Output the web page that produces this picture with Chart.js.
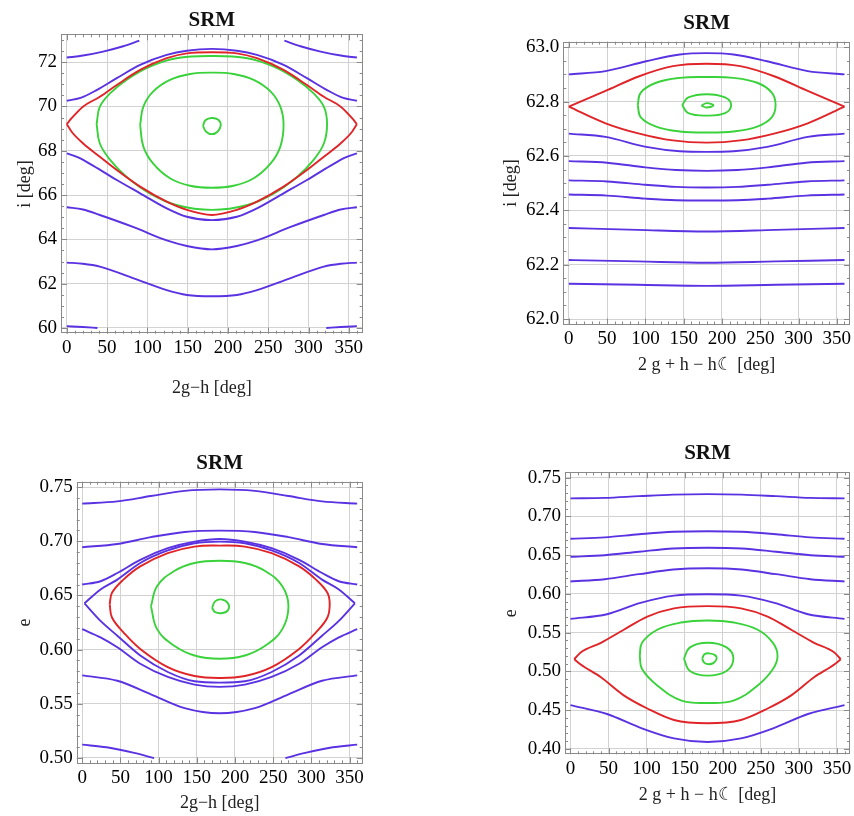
<!DOCTYPE html>
<html>
<head>
<meta charset="utf-8">
<script src="https://cdn.jsdelivr.net/npm/chart.js@4.4.1/dist/chart.umd.min.js"></script>
<style>
  html, body { margin: 0; padding: 0; background: #fff; overflow: hidden; }
  body { width: 854px; height: 816px; position: relative; }
  canvas { position: absolute; }
</style>
</head>
<body>
<canvas id="c1" width="400" height="405" style="left:0;top:0"></canvas>
<canvas id="c2" width="384" height="390" style="left:470px;top:0"></canvas>
<canvas id="c3" width="400" height="386" style="left:0;top:430px"></canvas>
<canvas id="c4" width="384" height="386" style="left:470px;top:430px"></canvas>
<script>
// tick values
const xTicks = [0, 50, 100, 150, 200, 250, 300, 350];
const p1YTicks = [60, 62, 64, 66, 68, 70, 72];
const p2YTicks = [62.0, 62.2, 62.4, 62.6, 62.8, 63.0];
const p3YTicks = [0.50, 0.55, 0.60, 0.65, 0.70, 0.75];
const p4YTicks = [0.40, 0.45, 0.50, 0.55, 0.60, 0.65, 0.70, 0.75];

// panel 1: i vs 2g-h   (points are [x, y])
const p1Blue = [
  [[0,72.21],[20,72.3],[45,72.48],[70,72.72],[90,72.97]],
  [[270,72.97],[290,72.72],[315,72.48],[340,72.3],[360,72.21]],
  [[0,70.26],[18,70.40],[37,70.74],[62,71.28],[91,71.88],[124,72.33],[149,72.52],[180,72.6],[211,72.52],[236,72.33],[269,71.88],[298,71.28],[323,70.74],[342,70.40],[360,70.26]],
  [[0,67.88],[14,67.7],[33,67.32],[62,66.68],[91,66.08],[124,65.40],[149,65.02],[180,64.87],[211,65.02],[236,65.40],[269,66.08],[298,66.68],[327,67.32],[346,67.7],[360,67.88]],
  [[0,65.45],[20,65.35],[41,65.1],[83,64.55],[124,63.95],[149,63.7],[180,63.55],[211,63.7],[236,63.95],[277,64.55],[319,65.1],[340,65.35],[360,65.45]],
  [[0,62.95],[20,62.9],[41,62.77],[83,62.24],[124,61.71],[149,61.49],[180,61.43],[211,61.49],[236,61.71],[277,62.24],[319,62.77],[340,62.9],[360,62.95]],
  [[0,60.08],[20,60.04],[38,60.0]],
  [[322,60.0],[340,60.04],[360,60.08]]
];
const p1Red = [
  [[0,69.2],[6,69.47],[20,69.99],[41,70.44],[62,70.97],[91,71.65],[124,72.18],[149,72.40],[180,72.45],[211,72.40],[236,72.18],[269,71.65],[298,70.97],[319,70.44],[340,69.99],[354,69.47],[360,69.2]],
  [[0,69.2],[6,68.86],[20,68.34],[41,67.73],[62,67.13],[91,66.38],[124,65.70],[149,65.33],[180,65.10],[211,65.33],[236,65.70],[269,66.38],[298,67.13],[319,67.73],[340,68.34],[354,68.86],[360,69.2]]
];
const p1Green = [
  [[37,69.2],[41,69.99],[54,70.60],[74,71.20],[103,71.80],[136,72.18],[180,72.28],[224,72.18],[257,71.80],[286,71.20],[306,70.60],[319,69.99],[323,69.2],[319,68.33],[306,67.58],[286,66.83],[257,66.08],[224,65.55],[180,65.33],[136,65.55],[103,66.08],[74,66.83],[54,67.58],[41,68.33],[37,69.2]],
  [[91,69.16],[95,69.99],[107,70.67],[128,71.20],[153,71.47],[180,71.53],[207,71.47],[232,71.20],[253,70.67],[265,69.99],[269,69.16],[265,68.19],[253,67.43],[232,66.76],[207,66.42],[180,66.33],[153,66.42],[128,66.76],[107,67.43],[95,68.19],[91,69.16]],
  [[169,69.12],[172,69.38],[180,69.48],[188,69.40],[191,69.15],[187,68.86],[180,68.75],[173,68.86],[169,69.12]]
];

// panel 2: i vs 2g+h-h_moon
const p2Blue = [
  [[0,62.90],[48,62.912],[101,62.948],[145,62.973],[180,62.978],[215,62.973],[259,62.948],[312,62.912],[360,62.90]],
  [[0,62.682],[48,62.670],[101,62.633],[145,62.617],[180,62.615],[215,62.617],[259,62.633],[312,62.670],[360,62.682]],
  [[0,62.581],[50,62.575],[100,62.558],[140,62.548],[180,62.545],[220,62.548],[260,62.558],[310,62.575],[360,62.581]],
  [[0,62.510],[50,62.506],[100,62.494],[140,62.486],[180,62.484],[220,62.486],[260,62.494],[310,62.506],[360,62.510]],
  [[0,62.458],[50,62.454],[100,62.443],[140,62.437],[180,62.436],[220,62.437],[260,62.443],[310,62.454],[360,62.458]],
  [[0,62.335],[90,62.328],[180,62.322],[270,62.328],[360,62.335]],
  [[0,62.217],[90,62.212],[180,62.207],[270,62.212],[360,62.217]],
  [[0,62.130],[90,62.126],[180,62.122],[270,62.126],[360,62.130]]
];
const p2Red = [
  [[0,62.781],[48,62.839],[92,62.893],[136,62.93],[180,62.939],[224,62.93],[268,62.893],[312,62.839],[360,62.781]],
  [[0,62.781],[48,62.72],[92,62.682],[136,62.657],[180,62.649],[224,62.657],[268,62.682],[312,62.72],[360,62.781]]
];
const p2Green = [
  [[90,62.787],[94,62.833],[114,62.869],[145,62.887],[180,62.89],[215,62.887],[246,62.869],[265,62.833],[270,62.787],[265,62.742],[246,62.708],[215,62.69],[180,62.686],[145,62.69],[114,62.708],[94,62.742],[90,62.787]],
  [[148,62.787],[156,62.815],[180,62.827],[204,62.815],[212,62.787],[204,62.757],[180,62.748],[156,62.757],[148,62.787]],
  [[173,62.785],[180,62.794],[189,62.786],[180,62.778],[173,62.785]]
];

// panel 3: e vs 2g-h
const p3Blue = [
  [[0,0.7348],[46,0.7368],[90,0.7418],[134,0.7465],[180,0.7479],[226,0.7465],[270,0.7418],[314,0.7368],[360,0.7348]],
  [[0,0.6945],[46,0.6975],[90,0.7038],[134,0.7086],[180,0.7098],[226,0.7086],[270,0.7038],[314,0.6975],[360,0.6945]],
  [[0,0.6601],[24,0.6631],[46,0.6707],[76,0.6829],[112,0.6936],[147,0.6997],[180,0.7021],[213,0.6997],[248,0.6936],[284,0.6829],[314,0.6707],[336,0.6631],[360,0.6601]],
  [[3,0.6427],[24,0.6555],[46,0.6646],[76,0.6799],[112,0.6915],[147,0.6982],[180,0.6997],[213,0.6982],[248,0.6915],[284,0.6799],[314,0.6646],[336,0.6555],[357,0.6427]],
  [[3,0.6427],[24,0.6265],[46,0.6128],[76,0.5945],[112,0.5793],[147,0.5707],[180,0.5695],[213,0.5707],[248,0.5793],[284,0.5945],[314,0.6128],[336,0.6265],[357,0.6427]],
  [[0,0.6189],[24,0.6113],[46,0.6021],[76,0.5869],[112,0.5747],[147,0.5677],[180,0.5656],[213,0.5677],[248,0.5747],[284,0.5869],[314,0.6021],[336,0.6113],[360,0.6189]],
  [[0,0.5762],[46,0.5712],[90,0.5587],[134,0.5460],[180,0.5412],[226,0.5460],[270,0.5587],[314,0.5712],[360,0.5762]],
  [[0,0.5122],[32,0.5098],[68,0.5046],[94,0.4998]],
  [[266,0.4998],[292,0.5046],[328,0.5098],[360,0.5122]]
];
const p3Red = [
  [[36,0.6418],[39,0.6524],[54,0.6646],[76,0.6768],[112,0.689],[147,0.6951],[180,0.696],[213,0.6951],[248,0.689],[284,0.6768],[306,0.6646],[321,0.6524],[324,0.6418],[321,0.6296],[306,0.6159],[284,0.6006],[248,0.5838],[213,0.5756],[180,0.5738],[147,0.5756],[112,0.5838],[76,0.6006],[54,0.6159],[39,0.6296],[36,0.6418]]
];
const p3Green = [
  [[90,0.640],[98,0.6585],[120,0.6723],[147,0.6799],[180,0.682],[213,0.6799],[240,0.6723],[262,0.6585],[270,0.640],[262,0.6189],[240,0.6037],[213,0.5945],[180,0.5915],[147,0.5945],[120,0.6037],[98,0.6189],[90,0.640]],
  [[170,0.6385],[174,0.6445],[182,0.6463],[191,0.6425],[191,0.6365],[184,0.6338],[174,0.6345],[170,0.6385]]
];

// panel 4: e vs 2g+h-h_moon
const p4Blue = [
  [[0,0.7233],[45,0.724],[90,0.7262],[135,0.7282],[180,0.7288],[225,0.7282],[270,0.7262],[315,0.724],[360,0.7233]],
  [[0,0.6712],[45,0.673],[90,0.677],[135,0.6802],[180,0.6809],[225,0.6802],[270,0.677],[315,0.673],[360,0.6712]],
  [[0,0.6479],[45,0.650],[90,0.6545],[135,0.6587],[180,0.6597],[225,0.6587],[270,0.6545],[315,0.650],[360,0.6479]],
  [[0,0.6161],[45,0.619],[90,0.6255],[135,0.6315],[180,0.6331],[225,0.6315],[270,0.6255],[315,0.619],[360,0.6161]],
  [[0,0.5678],[48,0.5738],[92,0.5885],[136,0.5978],[180,0.5996],[224,0.5978],[268,0.5885],[312,0.5738],[360,0.5678]],
  [[0,0.4564],[48,0.4450],[92,0.4272],[136,0.4135],[180,0.4089],[224,0.4135],[268,0.4272],[312,0.4450],[360,0.4564]]
];
const p4Red = [
  [[5,0.5157],[13,0.5242],[40,0.5369],[70,0.5538],[101,0.5708],[136,0.5814],[180,0.5843],[224,0.5814],[259,0.5708],[290,0.5538],[320,0.5369],[347,0.5242],[355,0.5157]],
  [[5,0.5157],[13,0.5093],[40,0.4924],[70,0.4691],[101,0.4521],[136,0.4373],[180,0.4331],[224,0.4373],[259,0.4521],[290,0.4691],[320,0.4924],[347,0.5093],[355,0.5157]]
];
const p4Green = [
  [[91,0.5199],[94,0.5369],[114,0.5538],[145,0.5631],[180,0.5657],[215,0.5631],[246,0.5538],[266,0.5369],[272,0.5199],[266,0.503],[246,0.4818],[215,0.4627],[180,0.4593],[145,0.4627],[114,0.4818],[94,0.503],[91,0.5199]],
  [[149,0.5165],[157,0.531],[180,0.5369],[205,0.531],[214,0.5165],[205,0.5005],[180,0.4945],[157,0.5005],[149,0.5165]],
  [[173,0.5165],[176,0.522],[182,0.5233],[190,0.521],[192,0.5165],[188,0.511],[182,0.5093],[176,0.511],[173,0.5165]]
];

const serif = "'Liberation Serif', 'Times New Roman', 'DejaVu Serif', serif";
const BLUE = '#5a32e2', RED = '#e02428', GREEN = '#3ad23a';

function curves(list, color) {
  return list.map(c => {
    const first = c[0], last = c[c.length - 1];
    const closed = first[0] === last[0] && first[1] === last[1];
    return {
      data: c.map(p => ({x: p[0], y: p[1]})),
      borderColor: color,
      borderWidth: 1.9,
      pointRadius: 0,
      showLine: true,
      // open curves run left to right, so monotone keeps them from overshooting
      cubicInterpolationMode: closed ? 'default' : 'monotone',
      tension: 0.4,
      fill: false
    };
  });
}

// frame + inward tick marks, like the original plots
const frameTicks = {
  id: 'frameTicks',
  afterDatasetsDraw(chart, args, opts) {
    const {ctx, chartArea: a, scales: {x, y}} = chart;
    ctx.save();
    ctx.strokeStyle = '#8a8a8a';
    ctx.lineWidth = 1;
    ctx.beginPath();
    for (let v = 0; v <= 360; v += 10) {
      const px = Math.round(x.getPixelForValue(v)) + 0.5;
      const len = v % 50 === 0 ? 6 : 3;
      ctx.moveTo(px, a.bottom); ctx.lineTo(px, a.bottom - len);
      ctx.moveTo(px, a.top); ctx.lineTo(px, a.top + len);
    }
    const step = opts.yMinor, major = opts.yMajor;
    for (let k = Math.ceil(y.min / step - 1e-9); k * step <= y.max + 1e-9; k++) {
      const v = k * step;
      const py = Math.round(y.getPixelForValue(v)) + 0.5;
      const r = v / major;
      const len = Math.abs(r - Math.round(r)) < 1e-6 ? 6 : 3;
      ctx.moveTo(a.left, py); ctx.lineTo(a.left + len, py);
      ctx.moveTo(a.right, py); ctx.lineTo(a.right - len, py);
    }
    ctx.stroke();
    ctx.strokeRect(Math.round(a.left) + 0.5, Math.round(a.top) + 0.5, Math.round(a.width) - 1, Math.round(a.height) - 1);
    ctx.restore();
  }
};

function panel(id, sets, yTicks, s) {
  return new Chart(document.getElementById(id), {
    type: 'scatter',
    data: {datasets: [].concat(curves(sets.blue, BLUE), curves(sets.red, RED), curves(sets.green, GREEN))},
    plugins: [frameTicks],
    options: {
      responsive: false,
      animation: false,
      layout: {padding: {left: 0, top: 0, right: s.padRight, bottom: 0}},
      plugins: {
        legend: {display: false},
        tooltip: {enabled: false},
        title: {
          display: true, text: 'SRM', fullSize: false, color: '#111',
          font: {family: serif, size: 21, weight: 'bold', lineHeight: 1.2},
          padding: s.titlePad
        },
        frameTicks: {yMinor: s.yMinor, yMajor: s.yMajor}
      },
      scales: {
        x: {
          type: 'linear', min: -7.2, max: 367.2,
          afterBuildTicks: sc => { sc.ticks = xTicks.map(v => ({value: v})); },
          afterFit: sc => { sc.height = s.xHeight; sc.paddingLeft = 0; sc.paddingRight = 0; },
          ticks: {autoSkip: false, maxRotation: 0, padding: 3, color: '#000', font: {family: serif, size: 19}},
          grid: {color: '#d2d2d2', lineWidth: 1, drawTicks: false},
          border: {display: false},
          title: {display: true, text: s.xTitle, color: '#222', font: {family: serif, size: 18, lineHeight: 1.2}, padding: {top: 0, bottom: s.xTitlePad}}
        },
        y: {
          type: 'linear', min: s.yMin, max: s.yMax,
          afterBuildTicks: sc => { sc.ticks = yTicks.map(v => ({value: v})); },
          afterFit: sc => { sc.width = s.yWidth; sc.paddingTop = 0; sc.paddingBottom = 0; },
          ticks: {autoSkip: false, padding: 4, color: '#000', font: {family: serif, size: 19},
                  callback: v => Number(v).toFixed(s.dec)},
          grid: {color: '#d2d2d2', lineWidth: 1, drawTicks: false},
          border: {display: false},
          title: {display: true, text: s.yTitle, color: '#222', font: {family: serif, size: 18, lineHeight: 1.2}, padding: {top: s.yTitlePad, bottom: 0}}
        }
      }
    }
  });
}

panel('c1', {blue: p1Blue, red: p1Red, green: p1Green}, p1YTicks, {
  yMin: 59.74, yMax: 73.26, dec: 0, yMinor: 0.5, yMajor: 2,
  xTitle: '2g\u2212h [deg]', yTitle: 'i [deg]',
  yWidth: 61, xHeight: 71.3, padRight: 37.3,
  titlePad: {top: 8.4, bottom: 0.7}, xTitlePad: 6.2, yTitlePad: 14.2
});
panel('c2', {blue: p2Blue, red: p2Red, green: p2Green}, p2YTicks, {
  yMin: 61.98, yMax: 63.02, dec: 1, yMinor: 0.05, yMajor: 0.2,
  xTitle: '2 g + h \u2212 h\u263E [deg]', yTitle: 'i [deg]',
  yWidth: 93.3, xHeight: 65.5, padRight: 4,
  titlePad: {top: 10.7, bottom: 5.8}, xTitlePad: 14.2, yTitlePad: 30.9
});
panel('c3', {blue: p3Blue, red: p3Red, green: p3Green}, p3YTicks, {
  yMin: 0.495, yMax: 0.755, dec: 2, yMinor: 0.01, yMajor: 0.05,
  xTitle: '2g\u2212h [deg]', yTitle: 'e',
  yWidth: 76.7, xHeight: 52.7, padRight: 37.3,
  titlePad: {top: 21.4, bottom: 5.1}, xTitlePad: 2.2, yTitlePad: 14.2
});
panel('c4', {blue: p4Blue, red: p4Red, green: p4Green}, p4YTicks, {
  yMin: 0.393, yMax: 0.757, dec: 2, yMinor: 0.01, yMajor: 0.05,
  xTitle: '2 g + h \u2212 h\u263E [deg]', yTitle: 'e',
  yWidth: 95, xHeight: 61.7, padRight: 4,
  titlePad: {top: 10.7, bottom: 6.4}, xTitlePad: 10.2, yTitlePad: 30.9
});
</script>
</body>
</html>
